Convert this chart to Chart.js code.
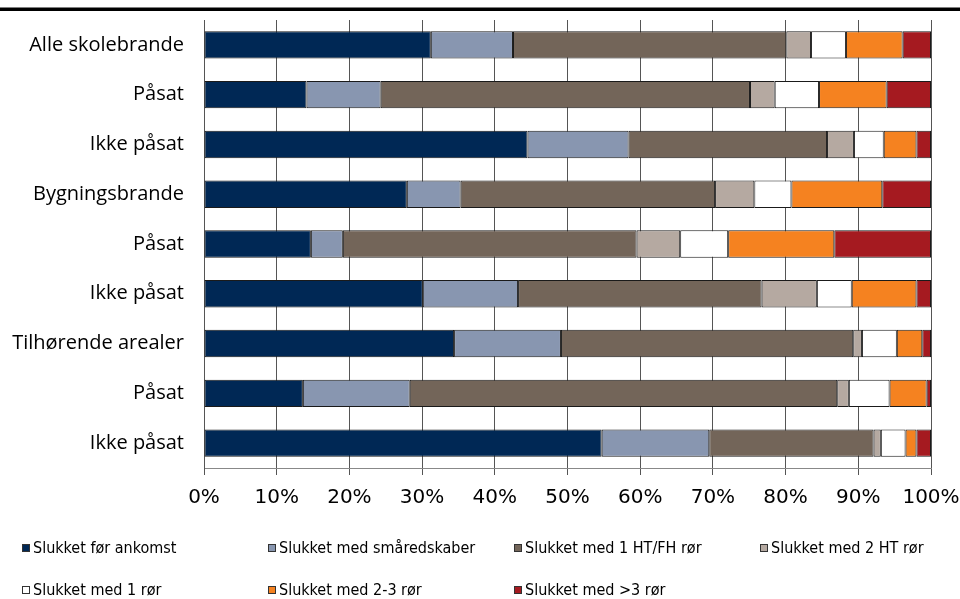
<!DOCTYPE html>
<html><head><meta charset="utf-8">
<script src="https://cdn.jsdelivr.net/npm/chart.js@4"></script>
<style>html,body{margin:0;padding:0;background:#fff;}canvas{display:block;}</style>
</head><body>
<canvas id="c" width="960" height="599"></canvas>
<script>
const categories = ["Alle skolebrande","Påsat","Ikke påsat","Bygningsbrande","Påsat","Ikke påsat","Tilhørende arealer","Påsat","Ikke påsat"];
const seriesNames = ["Slukket før ankomst","Slukket med småredskaber","Slukket med 1 HT/FH rør","Slukket med 2 HT rør","Slukket med 1 rør","Slukket med 2-3 rør","Slukket med >3 rør"];
const slukketForAnkomst   = [31.2, 14.1, 44.5, 27.9, 14.7, 30.1, 34.4, 13.6, 54.7];
const slukketSmaaredskaber= [11.3, 10.2, 13.9,  7.4,  4.4, 13.1, 14.7, 14.7, 14.8];
const slukket1HTFH        = [37.6, 50.8, 27.3, 35.0, 40.4, 33.5, 40.2, 58.8, 22.6];
const slukket2HT          = [ 3.4,  3.4,  3.7,  5.4,  6.0,  7.6,  1.2,  1.6,  1.0];
const slukket1Ror         = [ 4.8,  6.1,  4.1,  5.1,  6.6,  4.8,  4.8,  5.6,  3.4];
const slukket23Ror        = [ 7.8,  9.3,  4.5, 12.5, 14.6,  8.9,  3.5,  5.1,  1.5];
const slukketOver3Ror     = [ 3.9,  6.1,  2.0,  6.7, 13.3,  2.0,  1.2,  0.6,  2.0];
const xTicks = ["0%","10%","20%","30%","40%","50%","60%","70%","80%","90%","100%"];
const colors = ["#002855","#8896B0","#736559","#B5A9A1","#FFFFFF","#F58220","#A51A20"];

const seriesValues = [slukketForAnkomst, slukketSmaaredskaber, slukket1HTFH, slukket2HT, slukket1Ror, slukket23Ror, slukketOver3Ror];

const decor = {
  id: 'decor',
  afterDraw(chart) {
    const ctx = chart.ctx;
    ctx.save();
    ctx.fillStyle = '#000';
    ctx.fillRect(0, 7.5, 960, 3.5);
    // legend
    const cols = [22, 268, 514, 760];
    const rows = [548, 590];
    ctx.font = '16px "DejaVu Sans Condensed", "DejaVu Sans", sans-serif';
    ctx.textBaseline = 'middle';
    chart.data.datasets.forEach((ds, i) => {
      const x = cols[i % 4], y = rows[Math.floor(i / 4)];
      ctx.fillStyle = ds.backgroundColor;
      ctx.fillRect(x, y - 4, 8, 8);
      ctx.strokeStyle = '#333';
      ctx.lineWidth = 1;
      ctx.strokeRect(x + 0.5, y - 3.5, 7, 7);
      ctx.fillStyle = '#000';
      ctx.fillText(ds.label, x + 11, y + 1);
    });
    ctx.restore();
  }
};

new Chart(document.getElementById('c'), {
  type: 'bar',
  data: {
    labels: categories,
    datasets: seriesNames.map((n, i) => ({
      label: n,
      data: seriesValues[i],
      backgroundColor: colors[i],
      borderColor: '#1a1a1a',
      borderWidth: 1,
      borderSkipped: false,
      barPercentage: 0.55,
      categoryPercentage: 1.0
    }))
  },
  options: {
    indexAxis: 'y',
    responsive: false,
    animation: false,
    devicePixelRatio: 1,
    layout: { padding: { top: 20, right: 29, bottom: 86, left: 0 } },
    plugins: { legend: { display: false }, tooltip: { enabled: false } },
    scales: {
      x: {
        stacked: true, min: 0, max: 100,
        ticks: { stepSize: 10, color: '#000', padding: 11, maxRotation: 0,
          font: { family: '"DejaVu Sans", sans-serif', size: 20 },
          callback: (v, i) => xTicks[i] },
        grid: { color: '#555', lineWidth: 1, tickLength: 7, drawTicks: true },
        border: { color: '#888', width: 1 },
        afterFit(s) { s.height = 45; s.paddingLeft = 0; s.paddingRight = 0; }
      },
      y: {
        stacked: true,
        ticks: { color: '#000', padding: 12, font: { family: '"Open Sans", sans-serif', size: 20 } },
        grid: { display: false },
        border: { color: '#555', width: 1 },
        afterFit(s) { s.width = 204; s.paddingTop = 0; s.paddingBottom = 0; }
      }
    }
  },
  plugins: [decor]
});
</script>
</body></html>
